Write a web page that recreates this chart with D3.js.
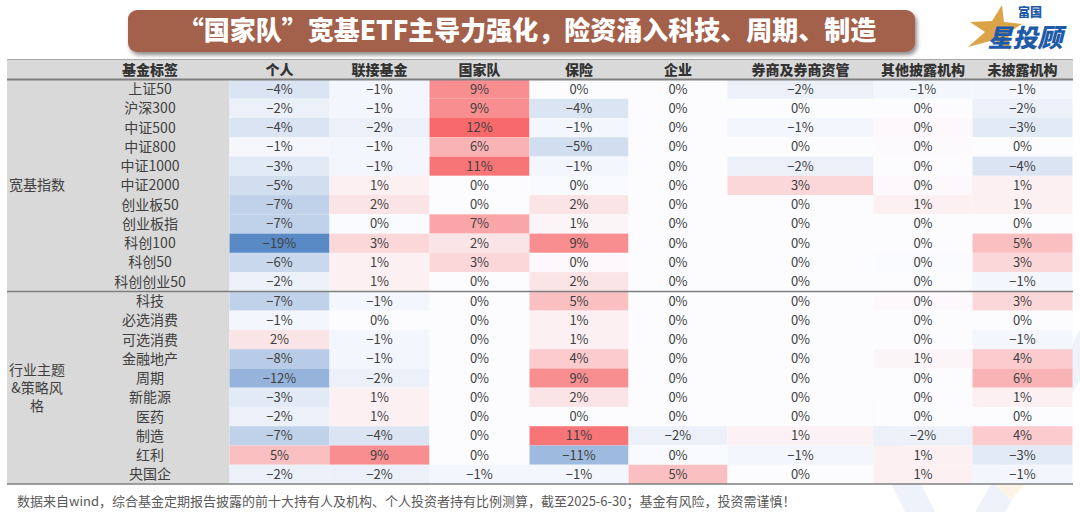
<!DOCTYPE html>
<html>
<head>
<meta charset="utf-8">
<script src="https://cdn.jsdelivr.net/npm/d3@7"></script>
<style>
  html, body { margin: 0; padding: 0; background: #fff; }
  svg { display: block; font-family: "Noto Sans CJK SC", "Noto Sans", sans-serif; }
</style>
</head>
<body>
<svg id="chart" width="1080" height="512"></svg>
<script>

// ---- data (shares change, %) ----
var columns = ['个人', '联接基金', '国家队', '保险', '企业', '券商及券商资管', '其他披露机构', '未披露机构'];

var groups = [
  {name: ['宽基指数'], rows: ['上证50', '沪深300', '中证500', '中证800', '中证1000', '中证2000', '创业板50', '创业板指', '科创100', '科创50', '科创创业50']},
  {name: ['行业主题', '&策略风', '格'], rows: ['科技', '必选消费', '可选消费', '金融地产', '周期', '新能源', '医药', '制造', '红利', '央国企']}
];

var values = [
  [-4,   -1,   9,   0,    0,    -2,   -1,   -1],
  [-2,   -1,   9,   -4,   0,    0,    0,    -2],
  [-4,   -2,   12,  -1,   0,    -1,   0.3,  -3],
  [-0.8, -1,   6,   -5,   0,    0,    0.2,  0],
  [-3,   -1,   11,  -1,   0,    -2,   0,    -4],
  [-5,   1,    0,   -0.3, 0,    3,    0.3,  1],
  [-7,   2,    0,   2,    0,    0,    1,    1],
  [-7,   -0.2, 7,   0.6,  0,    0,    0,    0],
  [-19,  3,    2,   9,    0,    0,    0,    5],
  [-6,   1,    3,   0.3,  0,    0,    -0.2, 3],
  [-2,   1,    0,   2,    0,    0,    0,    -1],
  [-7,   -1,   0,   5,    0,    0,    0.3,  3],
  [-1,   0,    0,   1,    0,    0,    0,    0],
  [2,    -1,   0,   1,    0,    0,    0,    -1],
  [-8,   -1,   0,   4,    0,    0,    0.6,  4],
  [-12,  -2,   0,   9,    0,    0,    0,    6],
  [-3,   1,    0,   2,    0,    0,    0,    1],
  [-2,   1,    0,   0,    0,    0,    0,    0],
  [-7,   -4,   0,   11,   -2,   0.8,  -2,   4],
  [5,    9,    0,   -11,  -0.3, -1,   1,    -3],
  [-2,   -2,   -1,  -1,   5,    0,    1,    -1]
];

var title = '“国家队”宽基ETF主导力强化，险资涌入科技、周期、制造';
var note = '数据来自wind，综合基金定期报告披露的前十大持有人及机构、个人投资者持有比例测算，截至2025-6-30；基金有风险，投资需谨慎！';

// ---- layout ----
var svg = d3.select('#chart');
var left = 7, right = 1073, labelRight = 229.5;
var headTop = 59.5, headBottom = 79.5, bodyBottom = 484;
var colWidths = [100, 100, 100, 99, 99, 146, 99, 100];

var rowNames = [];
groups.forEach(function (g) { rowNames = rowNames.concat(g.rows); });

var y = d3.scaleBand()
  .domain(d3.range(rowNames.length))
  .range([headBottom, bodyBottom]);

var colX = [labelRight];
colWidths.forEach(function (w, i) { colX.push(colX[i] + w); });

var all = d3.merge(values);
var color = d3.scaleLinear()
  .domain([d3.min(all), 0, d3.max(all)])
  .range(['#5A8AC6', '#FCFCFF', '#F8696B']);

var fmt = d3.format('.0%');

var defs = svg.append('defs');
var shadow = defs.append('filter').attr('id', 'shadow')
  .attr('x', '-5%').attr('y', '-20%').attr('width', '110%').attr('height', '160%');
shadow.append('feDropShadow')
  .attr('dx', 2).attr('dy', 3).attr('stdDeviation', 2)
  .attr('flood-color', '#000').attr('flood-opacity', 0.45);

// watermark (faint logo shapes)
var wm = svg.append('g').attr('opacity', 0.6);
wm.append('path')
  .attr('d', 'M850,400 L905,512 L935,512 L880,400 Z')
  .attr('fill', '#e3ebf7');
wm.append('path')
  .attr('d', 'M1080,330 L1080,380 L1005,512 L975,512 Z')
  .attr('fill', '#e3ebf7');
wm.append('path')
  .attr('d', 'M990,478 L1032,478 L1010,500 Z')
  .attr('fill', '#fbeed3');

// title
svg.append('rect')
  .attr('x', 128).attr('y', 10).attr('width', 787).attr('height', 42)
  .attr('rx', 9)
  .attr('fill', '#a3614b')
  .attr('filter', 'url(#shadow)');
svg.append('text')
  .attr('x', 527).attr('y', 40)
  .attr('text-anchor', 'middle')
  .attr('fill', '#fff')
  .attr('font-size', 26)
  .attr('font-weight', 900)
  .text(title);

// logo
var logo = svg.append('g');
logo.append('path')
  .attr('d', 'M1002,5 L1004,22 L1022,24 L1008,33 L1010,50 L994,40 L968,47 L985,32 L970,22 L992,21 Z')
  .attr('fill', '#dca448');
logo.append('text')
  .attr('x', 1030).attr('y', 17)
  .attr('text-anchor', 'middle')
  .attr('font-size', 12).attr('font-weight', 900)
  .attr('fill', '#1d5aa8')
  .text('富国');
logo.append('text')
  .attr('x', 1025).attr('y', 47)
  .attr('text-anchor', 'middle')
  .attr('font-size', 25).attr('font-weight', 900)
  .attr('font-style', 'italic')
  .attr('fill', '#1d5aa8')
  .text('星投顾');

// header
svg.append('rect')
  .attr('x', left).attr('y', headTop)
  .attr('width', right - left).attr('height', headBottom - headTop)
  .attr('fill', '#d9d9d9');
svg.append('rect')
  .attr('x', left).attr('y', headBottom)
  .attr('width', labelRight - left).attr('height', bodyBottom - headBottom)
  .attr('fill', '#d9d9d9');

var headY = (headTop + headBottom) / 2 + 5;
svg.append('text')
  .attr('x', 150).attr('y', headY)
  .attr('text-anchor', 'middle')
  .attr('font-size', 14).attr('font-weight', 900).attr('fill', '#333')
  .text('基金标签');
svg.append('g').selectAll('text').data(columns).join('text')
  .attr('x', function (d, i) { return (colX[i] + colX[i + 1]) / 2; })
  .attr('y', headY)
  .attr('text-anchor', 'middle')
  .attr('font-size', 14).attr('font-weight', 900).attr('fill', '#333')
  .text(function (d) { return d; });

// cells
var cells = [];
values.forEach(function (row, r) {
  row.forEach(function (v, c) { cells.push({r: r, c: c, v: v}); });
});

svg.append('g').selectAll('rect').data(cells).join('rect')
  .attr('x', function (d) { return colX[d.c]; })
  .attr('y', function (d) { return y(d.r); })
  .attr('width', function (d) { return colWidths[d.c]; })
  .attr('height', y.bandwidth())
  .attr('fill', function (d) { return color(d.v); });

svg.append('g').selectAll('text').data(cells).join('text')
  .attr('x', function (d) { return colX[d.c] + colWidths[d.c] / 2; })
  .attr('y', function (d) { return y(d.r) + y.bandwidth() / 2 + 4.5; })
  .attr('text-anchor', 'middle')
  .attr('font-size', 13).attr('fill', '#404040')
  .text(function (d) { return fmt(Math.round(d.v) / 100); });

// row labels
svg.append('g').selectAll('text').data(rowNames).join('text')
  .attr('x', 150)
  .attr('y', function (d, i) { return y(i) + y.bandwidth() / 2 + 5; })
  .attr('text-anchor', 'middle')
  .attr('font-size', 14).attr('fill', '#404040')
  .text(function (d) { return d; });

// group labels + separators
var start = 0;
groups.forEach(function (g, gi) {
  var top = y(start), bottom = y(start + g.rows.length - 1) + y.bandwidth();
  var mid = (top + bottom) / 2, lh = 18;
  g.name.forEach(function (line, li) {
    svg.append('text')
      .attr('x', 37)
      .attr('y', mid + 5 + (li - (g.name.length - 1) / 2) * lh)
      .attr('text-anchor', 'middle')
      .attr('font-size', 14).attr('fill', '#404040')
      .text(line);
  });
  svg.append('line')
    .attr('x1', left).attr('x2', right)
    .attr('y1', bottom).attr('y2', bottom)
    .attr('stroke', '#7f7f7f').attr('stroke-width', 1.5);
  start += g.rows.length;
});

svg.append('line')
  .attr('x1', left).attr('x2', right)
  .attr('y1', headTop).attr('y2', headTop)
  .attr('stroke', '#a6a6a6').attr('stroke-width', 1);
svg.append('line')
  .attr('x1', left).attr('x2', right)
  .attr('y1', headBottom).attr('y2', headBottom)
  .attr('stroke', '#7f7f7f').attr('stroke-width', 2);

// footnote
svg.append('text')
  .attr('x', 17).attr('y', 506)
  .attr('font-size', 13).attr('fill', '#595959')
  .text(note);

</script>
</body>
</html>
